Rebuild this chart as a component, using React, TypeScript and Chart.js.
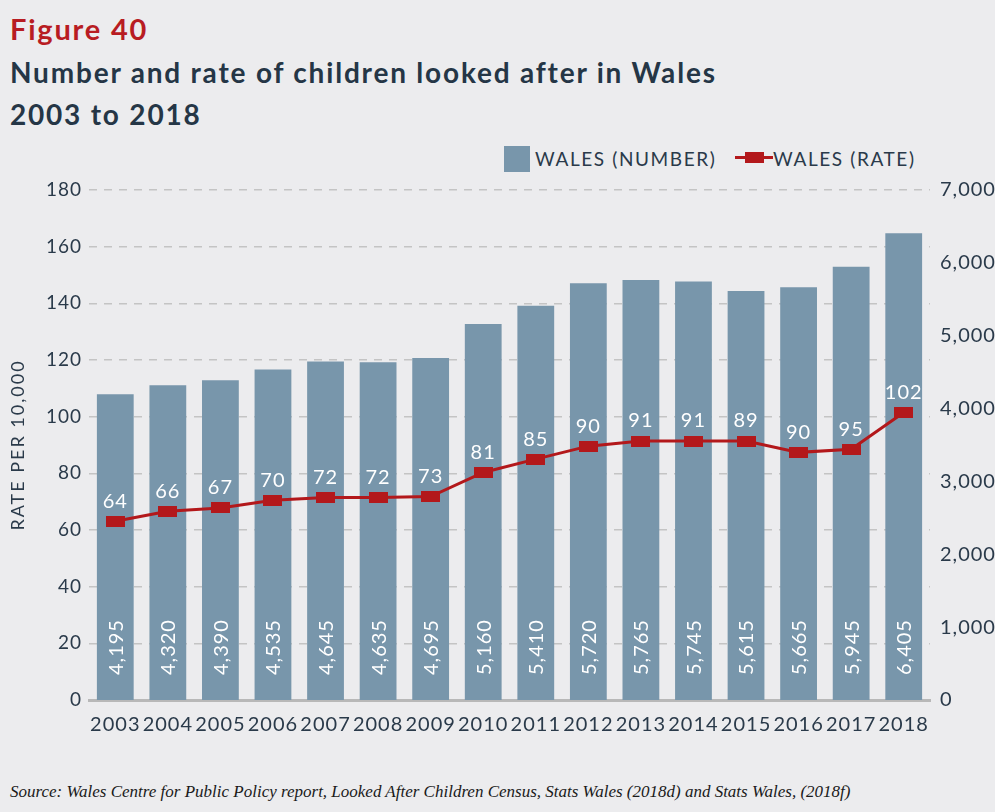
import React, { useEffect, useRef } from "react";
import { Chart, registerables } from "chart.js";

Chart.register(...registerables);

const years = ["2003", "2004", "2005", "2006", "2007", "2008", "2009", "2010", "2011", "2012", "2013", "2014", "2015", "2016", "2017", "2018"];
const numberValues = [4195, 4320, 4390, 4535, 4645, 4635, 4695, 5160, 5410, 5720, 5765, 5745, 5615, 5665, 5945, 6405];
// rate positions as plotted in the picture
const rateValues = [63.1, 66.6, 67.8, 70.5, 71.5, 71.5, 71.8, 80.3, 85.0, 89.6, 91.4, 91.4, 91.4, 87.4, 88.5, 101.5];
// rate labels as printed in the picture
const rateLabels = [64, 66, 67, 70, 72, 72, 73, 81, 85, 90, 91, 91, 89, 90, 95, 102];
const rateAxis = { min: 0, max: 180, step: 20 };
const numberAxis = { min: 0, max: 7000, step: 1000 };
const rateAxisTitle = "RATE PER 10,000";

const BAR = "#7896ab";
const RED = "#b3181b";
const TEXT = "#2a3a4a";
const FONT = "Lato, 'Open Sans', sans-serif";

export default function App() {
  const ref = useRef<HTMLCanvasElement | null>(null);

  useEffect(() => {
    if (!ref.current) return;
    const pt = document.createElement("canvas");
    pt.width = 19;
    pt.height = 11;
    const pctx = pt.getContext("2d")!;
    pctx.fillStyle = RED;
    pctx.fillRect(0, 0, 19, 11);

    const labelPlugin = {
      id: "labels",
      beforeDraw(chart: any) {
        (chart.ctx as any).letterSpacing = "1px";
      },
      afterDatasetsDraw(chart: any) {
        const ctx = chart.ctx;
        ctx.save();
        ctx.fillStyle = "#ffffff";
        // bar labels
        const barMeta = chart.getDatasetMeta(1);
        const base = chart.scales.y1.getPixelForValue(0);
        ctx.font = `20px ${FONT}`;
        ctx.textAlign = "left";
        ctx.textBaseline = "middle";
        barMeta.data.forEach((el: any, i: number) => {
          ctx.save();
          ctx.translate(el.x, base - 25);
          ctx.rotate(-Math.PI / 2);
          ctx.fillText(numberValues[i].toLocaleString("en-US"), 0, 1);
          ctx.restore();
        });
        // rate labels
        const lineMeta = chart.getDatasetMeta(0);
        ctx.textAlign = "center";
        ctx.textBaseline = "middle";
        lineMeta.data.forEach((el: any, i: number) => {
          ctx.fillText(String(rateLabels[i]), el.x, el.y - 20);
        });
        ctx.restore();
      },
      afterDraw(chart: any) {
        const ctx = chart.ctx;
        const area = chart.chartArea;
        ctx.save();
        (ctx as any).letterSpacing = "2px";
        ctx.fillStyle = TEXT;
        ctx.font = `18px ${FONT}`;
        ctx.textAlign = "center";
        ctx.textBaseline = "middle";
        ctx.translate(18, (area.top + area.bottom) / 2);
        ctx.rotate(-Math.PI / 2);
        ctx.fillText(rateAxisTitle, 0, 0);
        ctx.restore();
      },
    };

    const chart = new Chart(ref.current, {
      type: "bar",
      data: {
        labels: years,
        datasets: [
          {
            type: "line",
            label: "WALES (RATE)",
            data: rateValues,
            yAxisID: "y",
            borderColor: RED,
            backgroundColor: RED,
            borderWidth: 3,
            pointStyle: pt as any,
            pointRadius: 6,
            tension: 0,
            order: 0,
          } as any,
          {
            type: "bar",
            label: "WALES (NUMBER)",
            data: numberValues,
            yAxisID: "y1",
            backgroundColor: BAR,
            barPercentage: 0.7,
            categoryPercentage: 1,
            order: 1,
          } as any,
        ],
      },
      options: {
        responsive: false,
        animation: false,
        layout: { padding: { top: 60, left: 0, right: 0, bottom: 0 } },
        plugins: { legend: { display: false }, tooltip: { enabled: false } },
        scales: {
          x: {
            ticks: { color: TEXT, font: { family: FONT, size: 20 }, padding: 5, autoSkip: false, maxRotation: 0 },
            grid: { display: false },
            border: { display: true, color: "#b8b8b8", width: 3 },
            afterFit: (s: any) => {
              s.height = 50;
            },
          },
          y: {
            position: "left",
            min: rateAxis.min,
            max: rateAxis.max,
            ticks: { stepSize: rateAxis.step, color: TEXT, font: { family: FONT, size: 19 }, padding: 7 },
            grid: { color: "#c4c4c4", lineWidth: 1.5, drawTicks: false },
            border: { display: false, dash: [8, 7] },
            title: { display: false },
            afterFit: (s: any) => {
              s.width = 89;
            },
          },
          y1: {
            position: "right",
            min: numberAxis.min,
            max: numberAxis.max,
            ticks: {
              stepSize: numberAxis.step,
              color: TEXT,
              font: { family: FONT, size: 20 },
              padding: 10,
              callback: (v: any) => Number(v).toLocaleString("en-US"),
            },
            grid: { display: false, drawTicks: false },
            border: { display: false },
            afterFit: (s: any) => {
              s.width = 80;
            },
          },
        },
      } as any,
      plugins: [labelPlugin],
    });
    return () => chart.destroy();
  }, []);

  const titleStyle: React.CSSProperties = {
    position: "absolute",
    left: 10,
    fontSize: 28,
    fontWeight: 700,
    letterSpacing: 1.8,
    color: "#253646",
    whiteSpace: "nowrap",
  };
  const legendText: React.CSSProperties = {
    position: "absolute",
    top: 147,
    fontSize: 19,
    lineHeight: "23px",
    letterSpacing: 1.6,
    color: TEXT,
    whiteSpace: "nowrap",
  };

  return (
    <div
      style={{
        position: "fixed",
        left: 0,
        top: 0,
        width: 995,
        height: 812,
        background: "#ececee",
        overflow: "hidden",
        fontFamily: FONT,
      }}
    >
      <div style={{ ...titleStyle, top: 11, fontSize: 29, color: "#b81c22" }}>Figure 40</div>
      <div style={{ ...titleStyle, top: 55 }}>Number and rate of children looked after in Wales</div>
      <div style={{ ...titleStyle, top: 97 }}>2003 to 2018</div>

      <div style={{ position: "absolute", left: 504, top: 146, width: 26, height: 26, background: BAR }} />
      <div style={{ ...legendText, left: 535 }}>WALES (NUMBER)</div>
      <div style={{ position: "absolute", left: 735, top: 156, width: 38, height: 3, background: RED }} />
      <div style={{ position: "absolute", left: 745, top: 152, width: 19, height: 11, background: RED }} />
      <div style={{ ...legendText, left: 773 }}>WALES (RATE)</div>

      <canvas ref={ref} width={1010} height={620} style={{ position: "absolute", left: 0, top: 130, width: 1010, height: 620, display: "block" }} />

      <div
        style={{
          position: "absolute",
          left: 10,
          top: 782,
          fontFamily: "'Liberation Serif', 'DejaVu Serif', serif",
          fontStyle: "italic",
          fontSize: 17,
          color: "#1a1a1a",
          whiteSpace: "nowrap",
        }}
      >
        Source: Wales Centre for Public Policy report, Looked After Children Census, Stats Wales (2018d) and Stats Wales, (2018f)
      </div>
    </div>
  );
}
